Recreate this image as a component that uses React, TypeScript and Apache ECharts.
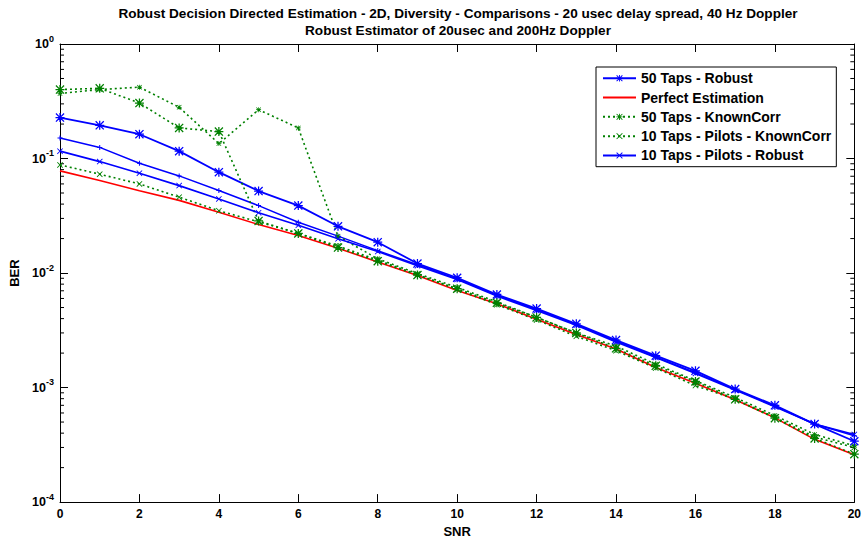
import React, { useEffect, useRef } from "react";
import * as echarts from "echarts";

const snr = [0, 1, 2, 3, 4, 5, 6, 7, 8, 9, 10, 11, 12, 13, 14, 15, 16, 17, 18, 19, 20];

const robust50 = [0.228, 0.195, 0.163, 0.116, 0.076, 0.052, 0.0388, 0.0256, 0.0186, 0.0121, 0.0091, 0.0065, 0.0049, 0.0036, 0.0026, 0.0019, 0.0014, 0.00097, 0.0007, 0.00048, 0.00034];
const perfect = [0.078, 0.0643, 0.0524, 0.0431, 0.034, 0.0265, 0.0213, 0.0165, 0.0125, 0.0095, 0.00703, 0.0054, 0.00395, 0.0029, 0.00217, 0.0015, 0.00109, 0.000783, 0.000544, 0.000353, 0.000259];
const knownCorr50 = [0.4, 0.41, 0.305, 0.185, 0.172, 0.0285, 0.0222, 0.0167, 0.0127, 0.0096, 0.0073, 0.0055, 0.0041, 0.003, 0.0022, 0.00155, 0.00113, 0.00079, 0.00054, 0.00036, 0.000262];
const pilotsKnownCorr10 = [0.088, 0.073, 0.06, 0.046, 0.035, 0.028, 0.0222, 0.0172, 0.013, 0.0097, 0.0072, 0.0053, 0.0039, 0.0028, 0.0021, 0.00148, 0.00104, 0.00079, 0.00055, 0.00037, 0.0003];
const pilotsRobust10 = [0.116, 0.094, 0.0745, 0.058, 0.0444, 0.0336, 0.0261, 0.0199, 0.0154, 0.0116, 0.0088, 0.0063, 0.0047, 0.0035, 0.0025, 0.00183, 0.00133, 0.00095, 0.00068, 0.00048, 0.00039];
const extraRobust = [0.151, 0.125, 0.091, 0.0705, 0.0526, 0.0388, 0.0278, 0.021, 0.0157, 0.0118, 0.0089, 0.0064, 0.0048, 0.00355, 0.00255, 0.00185, 0.00135, 0.00096, 0.00069, 0.00048, 0.00038];
const extraKnownCorr = [0.37, 0.4, 0.42, 0.28, 0.135, 0.267, 0.185, 0.021, 0.0133, 0.0099, 0.0075, 0.0056, 0.0041, 0.003, 0.0023, 0.0016, 0.00115, 0.00082, 0.00057, 0.00039, 0.00031];

const minorMultipliers = [2, 3, 4, 5, 6, 7, 8, 9];
const decades = [0.0001, 0.001, 0.01, 0.1];

const titleLines = [
  "Robust Decision Directed Estimation - 2D, Diversity - Comparisons - 20 usec delay spread, 40 Hz Doppler",
  "Robust Estimator of 20usec and 200Hz Doppler",
];
const legendNames = [
  "50 Taps - Robust",
  "Perfect Estimation",
  "50 Taps - KnownCorr",
  "10 Taps - Pilots - KnownCorr",
  "10 Taps - Pilots - Robust",
];

const X_PATH = "path://M0,1 L1,0 L5,4 L9,0 L10,1 L6,5 L10,9 L9,10 L5,6 L1,10 L0,9 L4,5 Z";
const STAR_PATH =
  "path://M0,1 L1,0 L5,4 L9,0 L10,1 L6,5 L10,9 L9,10 L5,6 L1,10 L0,9 L4,5 Z M4.3,0 L5.7,0 L5.7,4.3 L10,4.3 L10,5.7 L5.7,5.7 L5.7,10 L4.3,10 L4.3,5.7 L0,5.7 L0,4.3 L4.3,4.3 Z";
const PLUS_PATH = "path://M4,0 L6,0 L6,4 L10,4 L10,6 L6,6 L6,10 L4,10 L4,6 L0,6 L0,4 L4,4 Z";

const FONT = "'Liberation Sans', Arial, Helvetica, sans-serif";
const BLUE = "#0000ff";
const GREEN = "#008000";
const RED = "#ff0000";

function pairs(ys: number[]) {
  return snr.map((x, i) => [x, ys[i]]);
}

export default function App() {
  const ref = useRef<HTMLDivElement>(null);
  useEffect(() => {
    if (!ref.current) return;
    const chart = echarts.init(ref.current, undefined, { renderer: "svg" });
    const minorTicks: number[][] = [];
    decades.forEach((d) => minorMultipliers.forEach((m) => minorTicks.push([0, d * m])));

    const lineSeries = (
      name: string,
      data: number[],
      color: string,
      dotted: boolean,
      symbol: string,
      size: number,
      width: number
    ) => ({
      type: "line",
      name,
      data: pairs(data),
      symbol,
      symbolSize: size,
      showSymbol: symbol !== "none",
      lineStyle: { color, width, type: dotted ? [2, 3] : "solid" },
      itemStyle: { color, borderWidth: 0 },
      z: 3,
    });

    chart.setOption({
      animation: false,
      backgroundColor: "#ffffff",
      textStyle: { fontFamily: FONT },
      graphic: [
        {
          type: "text",
          x: 458,
          y: 13,
          style: { text: titleLines[0], fill: "#000", font: `bold 13.6px ${FONT}`, textAlign: "center", textVerticalAlign: "middle" },
        },
        {
          type: "text",
          x: 458,
          y: 30,
          style: { text: titleLines[1], fill: "#000", font: `bold 13.6px ${FONT}`, textAlign: "center", textVerticalAlign: "middle" },
        },
      ],
      grid: { left: 60, right: 9, top: 44, bottom: 38, containLabel: false },
      legend: {
        data: legendNames.map((n, i) => (i === 1 ? { name: n, itemStyle: { opacity: 0 } } : { name: n })),
        orient: "vertical",
        left: 596,
        top: 67,
        padding: [3, 5, 3, 6],
        itemWidth: 33,
        itemHeight: 8,
        itemGap: 2.8,
        backgroundColor: "#ffffff",
        borderColor: "#000000",
        borderWidth: 1,
        borderRadius: 0,
        textStyle: { fontFamily: FONT, fontWeight: "bold", fontSize: 14, lineHeight: 16.5, color: "#000" },
      },
      xAxis: [
        {
          type: "value",
          min: 0,
          max: 20,
          interval: 2,
          position: "bottom",
          name: "SNR",
          nameLocation: "middle",
          nameGap: 21,
          nameTextStyle: { fontFamily: FONT, fontWeight: "bold", fontSize: 13, color: "#000" },
          axisLine: { show: true, onZero: false, lineStyle: { color: "#000", width: 1 } },
          axisTick: { show: true, inside: true, length: 8, lineStyle: { color: "#000" } },
          axisLabel: { show: true, margin: 6, fontFamily: FONT, fontWeight: "bold", fontSize: 12, color: "#000" },
          splitLine: { show: false },
        },
        {
          type: "value",
          min: 0,
          max: 20,
          interval: 2,
          position: "top",
          axisLine: { show: true, onZero: false, lineStyle: { color: "#000", width: 1 } },
          axisTick: { show: true, inside: true, length: 8, lineStyle: { color: "#000" } },
          axisLabel: { show: false },
          splitLine: { show: false },
        },
      ],
      yAxis: [
        {
          type: "log",
          logBase: 10,
          min: 0.0001,
          max: 1,
          position: "left",
          name: "BER",
          nameLocation: "middle",
          nameGap: 35,
          nameRotate: 90,
          nameTextStyle: { fontFamily: FONT, fontWeight: "bold", fontSize: 13, color: "#000" },
          axisLine: { show: true, onZero: false, lineStyle: { color: "#000", width: 1 } },
          axisTick: { show: true, inside: true, length: 8, lineStyle: { color: "#000" } },
          axisLabel: {
            show: true,
            margin: 6,
            formatter: (v: number) => `{b|10}{e|${Math.round(Math.log10(v))}}`,
            rich: {
              b: { fontFamily: FONT, fontWeight: "bold", fontSize: 12.5, color: "#000" },
              e: { fontFamily: FONT, fontWeight: "bold", fontSize: 9, color: "#000", padding: [0, 0, 11, 0] },
            },
          },
          splitLine: { show: false },
        },
        {
          type: "log",
          logBase: 10,
          min: 0.0001,
          max: 1,
          position: "right",
          axisLine: { show: true, onZero: false, lineStyle: { color: "#000", width: 1 } },
          axisTick: { show: true, inside: true, length: 8, lineStyle: { color: "#000" } },
          axisLabel: { show: false },
          splitLine: { show: false },
        },
      ],
      series: [
        {
          type: "custom",
          name: "minorTicks",
          silent: true,
          xAxisIndex: 0,
          yAxisIndex: 0,
          z: 1,
          encode: { x: 0, y: 1 },
          data: minorTicks,
          renderItem: (params: any, api: any) => {
            const v = api.value(1);
            const a = api.coord([0, v]);
            const b = api.coord([20, v]);
            return {
              type: "group",
              children: [
                { type: "line", shape: { x1: a[0], y1: a[1], x2: a[0] + 4, y2: a[1] }, style: { stroke: "#000", lineWidth: 1 } },
                { type: "line", shape: { x1: b[0] - 4, y1: b[1], x2: b[0], y2: b[1] }, style: { stroke: "#000", lineWidth: 1 } },
              ],
            };
          },
        },
        lineSeries("Extra - Robust", extraRobust, BLUE, false, PLUS_PATH, 5, 1.5),
        lineSeries("Extra - KnownCorr", extraKnownCorr, GREEN, true, STAR_PATH, 5, 1.6),
        lineSeries(legendNames[0], robust50, BLUE, false, STAR_PATH, 9, 1.8),
        lineSeries(legendNames[1], perfect, RED, false, "none", 0, 1.6),
        lineSeries(legendNames[2], knownCorr50, GREEN, true, STAR_PATH, 9, 1.6),
        lineSeries(legendNames[3], pilotsKnownCorr10, GREEN, true, X_PATH, 6, 1.6),
        lineSeries(legendNames[4], pilotsRobust10, BLUE, false, X_PATH, 6, 1.6),
      ],
    });
    return () => chart.dispose();
  }, []);
  return <div ref={ref} style={{ width: 864, height: 543, position: "absolute", left: 0, top: 0 }} />;
}
